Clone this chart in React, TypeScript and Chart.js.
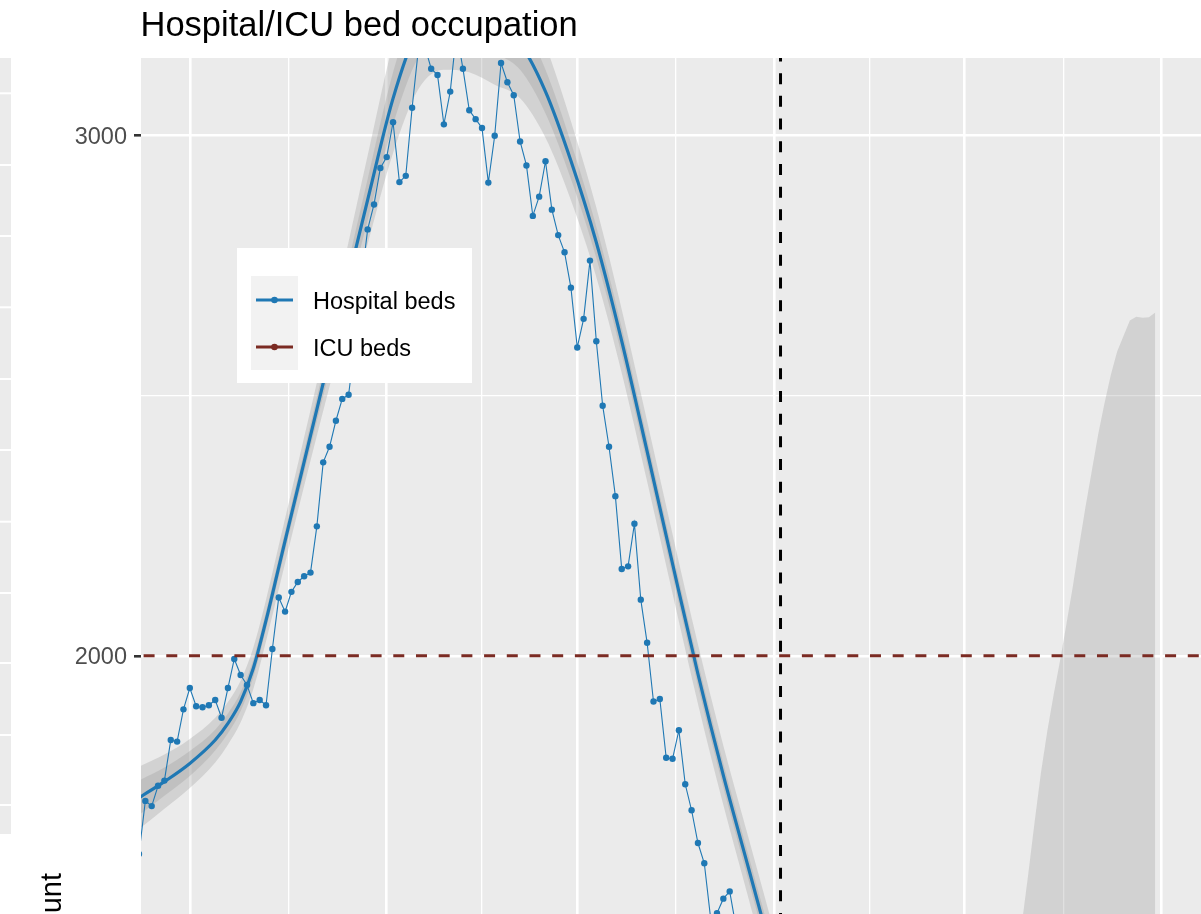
import React, { useEffect, useRef } from "react";
import { Chart, registerables } from "chart.js";

Chart.register(...registerables);

const FONT = "'Liberation Sans', Arial, Helvetica, sans-serif";
const BLUE = "#1f78b4";
const ICU_RED = "#7b2b23";

// Daily hospital bed occupation (day index 0..94)
const hospitalBeds = [
  1619, 1721, 1711, 1750, 1760, 1838, 1835, 1897, 1938, 1903,
  1901, 1905, 1915, 1881, 1938, 1994, 1963, 1944, 1909, 1915,
  1905, 2013, 2112, 2085, 2123, 2142, 2153, 2160, 2249, 2372,
  2402, 2452, 2494, 2502, 2600, 2720, 2820, 2868, 2938, 2959,
  3026, 2911, 2923, 3054, 3168, 3172, 3129, 3117, 3022, 3085,
  3200, 3129, 3049, 3032, 3015, 2910, 3000, 3140, 3103, 3078,
  2989, 2943, 2846, 2883, 2951, 2858, 2809, 2776, 2708, 2593,
  2648, 2760, 2605, 2481, 2402, 2307, 2167, 2172, 2254, 2108,
  2025, 1912, 1917, 1804, 1802, 1857, 1753, 1703, 1640, 1601,
  1495, 1505, 1533, 1547, 1478,
];

// Smoothed trend and its two confidence ribbons
const fitDays = [0, 4, 8, 12, 14, 16, 18, 20, 22, 24, 28, 32, 36, 40, 44, 48, 52, 56, 60, 64, 68, 72, 76, 80, 84, 88, 92, 96, 100];
const fitValues = [1727, 1758, 1793, 1838, 1870, 1912, 1976, 2068, 2170, 2272, 2474, 2676, 2877, 3072, 3207, 3250, 3245, 3215, 3177, 3085, 2952, 2795, 2605, 2393, 2177, 1965, 1770, 1590, 1410];
const outerUpper = [1787, 1810, 1840, 1881, 1911, 1952, 2016, 2108, 2212, 2316, 2525, 2741, 2962, 3177, 3324, 3373, 3368, 3332, 3282, 3174, 3028, 2862, 2666, 2451, 2234, 2022, 1827, 1648, 1470];
const outerLower = [1667, 1706, 1746, 1795, 1829, 1872, 1936, 2028, 2128, 2228, 2423, 2611, 2792, 2967, 3090, 3127, 3122, 3098, 3072, 2996, 2876, 2728, 2544, 2335, 2120, 1908, 1713, 1532, 1350];
const innerUpper = [1760, 1785, 1817, 1858, 1889, 1930, 1993, 2085, 2188, 2291, 2497, 2706, 2917, 3122, 3263, 3309, 3304, 3271, 3227, 3127, 2987, 2825, 2631, 2417, 2200, 1988, 1793, 1614, 1436];
const innerLower = [1694, 1731, 1769, 1818, 1851, 1894, 1959, 2051, 2152, 2253, 2451, 2646, 2837, 3022, 3151, 3191, 3186, 3159, 3127, 3043, 2917, 2765, 2579, 2369, 2154, 1942, 1747, 1566, 1384];

// Right-hand ribbon (upper edge)
const ribbonDays = [136, 137, 138, 139, 140, 141, 142, 143, 144, 145, 146, 147, 148, 149, 150, 151, 152, 153, 154, 155, 156, 157, 158, 159, 160];
const ribbonUpper = [1190, 1290, 1390, 1485, 1580, 1680, 1775, 1855, 1925, 1990, 2060, 2132, 2210, 2285, 2355, 2425, 2485, 2540, 2585, 2615, 2645, 2652, 2650, 2651, 2660];

const icuCapacity = 2000;
const markerDay = 101;

const xMajorDays = [8, 39, 69, 100, 130, 161];
const xMinorDays = [23.5, 54, 84.5, 115, 145.5];
const yTicks = [2000, 2500, 3000];
const yLabeled = [2000, 3000];

const X_MIN = 0.315;
const X_MAX = 167.2;
const Y_MIN = 1503.5;
const Y_MAX = 3149.6;

const sliverGridY = [93.3, 165, 236, 307.3, 379, 450, 521.7, 593, 663, 735, 805];

const legendItems = [
  { label: "Hospital beds", color: BLUE },
  { label: "ICU beds", color: ICU_RED },
];

const decorPlugin = {
  id: "decor",
  beforeDraw(chart: any) {
    const { ctx, chartArea: a } = chart;
    ctx.save();
    ctx.fillStyle = "#ffffff";
    ctx.fillRect(0, 0, chart.width, chart.height);
    // neighbouring panel sliver
    ctx.fillStyle = "#ebebeb";
    ctx.fillRect(0, 58, 11, 776);
    ctx.strokeStyle = "#ffffff";
    ctx.lineWidth = 2;
    for (const y of sliverGridY) {
      ctx.beginPath();
      ctx.moveTo(0, y);
      ctx.lineTo(11, y);
      ctx.stroke();
    }
    // panel background
    ctx.fillStyle = "#ebebeb";
    ctx.fillRect(a.left, a.top, a.right - a.left, a.bottom - a.top);
    ctx.restore();
  },
  afterDatasetsDraw(chart: any) {
    const { ctx } = chart;
    ctx.save();
    ctx.fillStyle = "#ffffff";
    ctx.fillRect(237, 248, 235, 135);
    ctx.fillStyle = "#f2f2f2";
    ctx.fillRect(251, 276, 47, 94);
    legendItems.forEach((it, i) => {
      const y = 300 + i * 47;
      ctx.strokeStyle = it.color;
      ctx.lineWidth = 3;
      ctx.beginPath();
      ctx.moveTo(256, y);
      ctx.lineTo(293, y);
      ctx.stroke();
      ctx.fillStyle = it.color;
      ctx.beginPath();
      ctx.arc(274.5, y, 3.3, 0, Math.PI * 2);
      ctx.fill();
      ctx.fillStyle = "#000000";
      ctx.font = `23.5px ${FONT}`;
      ctx.textAlign = "left";
      ctx.textBaseline = "alphabetic";
      ctx.fillText(it.label, 313, y + 8.5);
    });
    ctx.restore();
  },
  afterDraw(chart: any) {
    const { ctx } = chart;
    ctx.save();
    ctx.fillStyle = "#000000";
    ctx.font = `34.5px ${FONT}`;
    ctx.textAlign = "left";
    ctx.textBaseline = "alphabetic";
    ctx.fillText("Hospital/ICU bed occupation", 140.5, 36);
    ctx.translate(61, 873);
    ctx.rotate(-Math.PI / 2);
    ctx.font = `29px ${FONT}`;
    ctx.textAlign = "right";
    ctx.fillText("count", 0, 0);
    ctx.restore();
  },
};

export default function App() {
  const ref = useRef<HTMLCanvasElement | null>(null);

  useEffect(() => {
    if (!ref.current) return;
    Chart.defaults.font.family = FONT;

    const pts = (xs: number[], ys: number[]) => xs.map((x, i) => ({ x, y: ys[i] }));
    const band = "rgba(153,153,153,0.3)";

    const chart = new Chart(ref.current, {
      type: "line",
      data: {
        datasets: [
          {
            label: "marker",
            data: [{ x: markerDay, y: 0 }, { x: markerDay, y: 5000 }],
            borderColor: "#000000",
            borderWidth: 3,
            borderDash: [11, 11.7],
            pointRadius: 0,
            fill: false,
            clip: 0,
          },
          {
            label: "icu capacity",
            data: [{ x: -10, y: icuCapacity }, { x: 200, y: icuCapacity }],
            borderColor: ICU_RED,
            borderWidth: 3,
            borderDash: [11, 11.7],
            pointRadius: 0,
            fill: false,
            clip: 0,
          },
          {
            label: "Hospital beds",
            data: hospitalBeds.map((v, i) => ({ x: i, y: v })),
            borderColor: BLUE,
            backgroundColor: BLUE,
            borderWidth: 1.1,
            pointRadius: 3.2,
            pointHoverRadius: 3.2,
            pointBorderWidth: 0,
            pointBackgroundColor: BLUE,
            tension: 0,
            fill: false,
            clip: 0,
          },
          {
            label: "fit",
            data: pts(fitDays, fitValues),
            borderColor: BLUE,
            borderWidth: 3.2,
            pointRadius: 0,
            cubicInterpolationMode: "monotone",
            fill: false,
            clip: 0,
          },
          {
            label: "inner upper",
            data: pts(fitDays, innerUpper),
            borderWidth: 0,
            pointRadius: 0,
            cubicInterpolationMode: "monotone",
            backgroundColor: band,
            fill: "+1",
            clip: 0,
          },
          {
            label: "inner lower",
            data: pts(fitDays, innerLower),
            borderWidth: 0,
            pointRadius: 0,
            cubicInterpolationMode: "monotone",
            fill: false,
            clip: 0,
          },
          {
            label: "outer upper",
            data: pts(fitDays, outerUpper),
            borderWidth: 0,
            pointRadius: 0,
            cubicInterpolationMode: "monotone",
            backgroundColor: band,
            fill: "+1",
            clip: 0,
          },
          {
            label: "outer lower",
            data: pts(fitDays, outerLower),
            borderWidth: 0,
            pointRadius: 0,
            cubicInterpolationMode: "monotone",
            fill: false,
            clip: 0,
          },
          {
            label: "ribbon",
            data: pts(ribbonDays, ribbonUpper),
            borderWidth: 0,
            pointRadius: 0,
            backgroundColor: band,
            fill: "start",
            clip: 0,
          },
        ] as any,
      },
      options: {
        responsive: false,
        animation: false,
        devicePixelRatio: 1,
        events: [],
        layout: { autoPadding: false, padding: { top: 58, left: 0, right: 0, bottom: 0 } },
        plugins: {
          legend: { display: false },
          title: { display: false },
          tooltip: { enabled: false },
        },
        scales: {
          x: {
            type: "linear",
            min: X_MIN,
            max: X_MAX,
            border: { display: false },
            ticks: { display: false },
            grid: {
              color: "#ffffff",
              drawTicks: false,
              lineWidth: (c: any) => (xMajorDays.includes(c.tick?.value) ? 2.6 : 1.3),
            },
            afterBuildTicks: (scale: any) => {
              scale.ticks = [...xMajorDays, ...xMinorDays].sort((a, b) => a - b).map((v) => ({ value: v }));
            },
            afterFit: (scale: any) => {
              scale.height = 0;
              scale.paddingLeft = 0;
              scale.paddingRight = 0;
            },
          },
          y: {
            type: "linear",
            min: Y_MIN,
            max: Y_MAX,
            border: { display: false },
            ticks: {
              color: "#4d4d4d",
              font: { size: 23.5, family: FONT },
              padding: 7,
              labelOffset: 2,
              callback: (v: any) => (yLabeled.includes(Number(v)) ? String(v) : ""),
            },
            grid: {
              color: "#ffffff",
              drawTicks: true,
              tickLength: 7,
              tickColor: (c: any) => (yLabeled.includes(c.tick?.value) ? "#333333" : "rgba(0,0,0,0)"),
              tickWidth: 2.6,
              lineWidth: (c: any) => (yLabeled.includes(c.tick?.value) ? 2.6 : 1.3),
            },
            afterBuildTicks: (scale: any) => {
              scale.ticks = yTicks.map((v) => ({ value: v }));
            },
            afterFit: (scale: any) => {
              scale.width = 141;
              scale.paddingTop = 0;
              scale.paddingBottom = 0;
            },
          },
        },
      } as any,
      plugins: [decorPlugin],
    });

    return () => chart.destroy();
  }, []);

  return (
    <div
      style={{
        position: "fixed",
        left: 0,
        top: 0,
        width: 1201,
        height: 914,
        overflow: "hidden",
        background: "#ffffff",
      }}
    >
      <canvas ref={ref} width={1201} height={914} style={{ display: "block" }} />
    </div>
  );
}
